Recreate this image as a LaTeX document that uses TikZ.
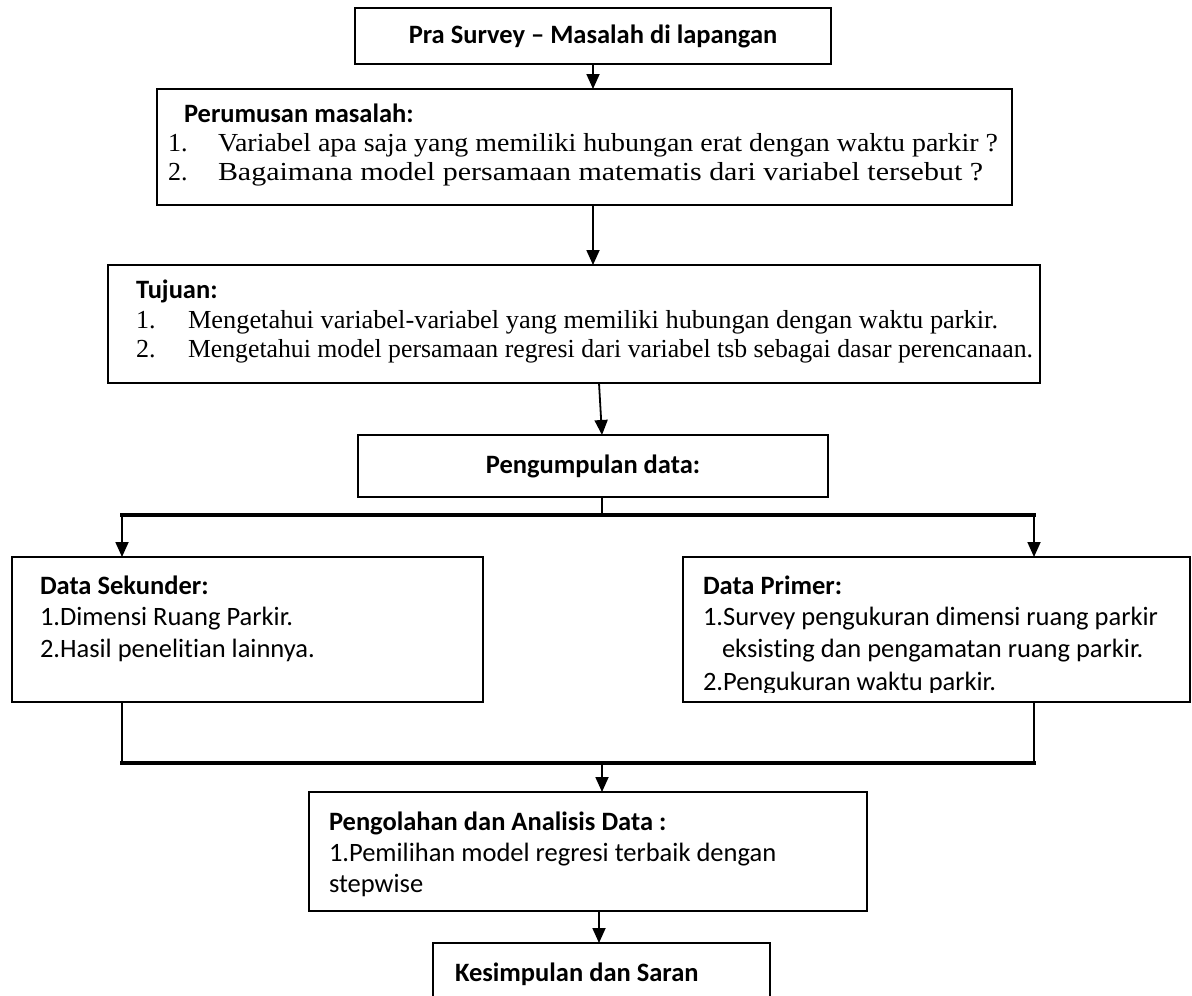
\documentclass[tikz,border=0pt]{standalone}
\usepackage{fontspec}
\usepackage{graphicx}
\setmainfont{Liberation Serif}
\newfontfamily\calfont[Ligatures=NoCommon]{Carlito}
\usetikzlibrary{arrows.meta}
\newcommand\fitw[2]{\resizebox{#1}{\height}{#2}}
\begin{document}
\begin{tikzpicture}[x=1pt,y=-1pt,
  every node/.style={inner sep=0pt,outer sep=0pt},
  box/.style={draw=black,line width=1.5pt,anchor=north west,inner sep=0pt,outer sep=0pt},
  hd/.style={anchor=base west,font=\calfont\bfseries\fontsize{26.5}{32}\selectfont},
  ct/.style={anchor=base west,font=\calfont\fontsize{26.5}{32}\selectfont},
  tm/.style={anchor=base west,font=\fontsize{26}{30}\selectfont},
  conn/.style={line width=1.8pt},
  arr/.style={conn,-{Triangle[length=15pt,width=13pt]}},
  bus/.style={line width=3.2pt,line cap=rect}]
\useasboundingbox (0,0) rectangle (1192,996);
\fill[white] (0,0) rectangle (1192,996);

% boxes
\node[box,minimum width=476pt,minimum height=56pt] (b1) at (355,8) {};
\node[box,minimum width=855pt,minimum height=116pt] (b2) at (157,89) {};
\node[box,minimum width=932pt,minimum height=118pt] (b3) at (108,265) {};
\node[box,minimum width=470pt,minimum height=62pt] (b4) at (358,435) {};
\node[box,minimum width=471pt,minimum height=145pt] (b5) at (12,557) {};
\node[box,minimum width=507pt,minimum height=145pt] (b6) at (683,557) {};
\node[box,minimum width=558pt,minimum height=119pt] (b7) at (309,792) {};
\node[box,minimum width=337pt,minimum height=80pt] (b8) at (433,943) {};

% texts
\node[hd,anchor=center] (t1) at (b1.center) {Pra Survey – Masalah di lapangan};

\node[hd] (t2h) at (184,122) {Perumusan masalah:};
\node[tm] (t2n1) at (168,151) {1.};
\node[tm] (t2l1) at (218,151) {\fitw{780pt}{Variabel apa saja yang memiliki hubungan erat dengan waktu parkir ?}};
\node[tm] (t2n2) at (168,180) {2.};
\node[tm] (t2l2) at (218,180) {\fitw{765pt}{Bagaimana model persamaan matematis dari variabel tersebut ?}};

\node[hd] (t3h) at (136,298) {Tujuan:};
\node[tm] (t3n1) at (136,328) {1.};
\node[tm] (t3l1) at (188,328) {\fitw{810pt}{Mengetahui variabel-variabel yang memiliki hubungan dengan waktu parkir.}};
\node[tm] (t3n2) at (136,357) {2.};
\node[tm] (t3l2) at (188,357) {\fitw{845pt}{Mengetahui model persamaan regresi dari variabel tsb sebagai dasar perencanaan.}};

\node[hd,anchor=center] (t4) at (b4.center) {Pengumpulan data:};

\node[hd] (t5h) at (40,594) {Data Sekunder:};
\node[ct] (t5l1) at (40,625) {1.Dimensi Ruang Parkir.};
\node[ct] (t5l2) at (40,657) {2.Hasil penelitian lainnya.};

\node[hd] (t6h) at (703,594) {Data Primer:};
\node[ct] (t6l1) at (703,625) {1.Survey pengukuran dimensi ruang parkir};
\node[ct] (t6l2) at (722,657) {eksisting dan pengamatan ruang parkir.};
\begin{scope}
\clip (690,665) rectangle (1188,692);
\node[ct] (t6l3) at (703,690) {2.Pengukuran waktu parkir.};
\end{scope}

\node[hd] (t7h) at (329,830) {Pengolahan dan Analisis Data :};
\node[ct] (t7l1) at (329,861) {1.Pemilihan model regresi terbaik dengan};
\node[ct] (t7l2) at (329,892) {stepwise};

\node[hd] (t8) at (455,981) {Kesimpulan dan Saran};

% connector coordinates
\coordinate (xa) at (593,0);
\coordinate (xb) at (599,0);
\coordinate (xc) at (602,0);
\coordinate (u1) at (122,515);
\coordinate (u2) at (1034,515);
\coordinate (um) at (602,515);
\coordinate (l1) at (122,763);
\coordinate (l2) at (1034,763);
\coordinate (lm) at (602,763);

% connectors
\draw[arr] (b1.south) -- (b1.south |- b2.north);
\draw[arr] (b2.south -| xa) -- (b3.north -| xa);
\draw[arr] (b3.south -| xb) -- (b4.north -| xc);
\draw[conn] (b4.south -| um) -- (um);
\draw[bus] (u1) -- (u2);
\draw[arr] (u1) -- (b5.north -| u1);
\draw[arr] (u2) -- (b6.north -| u2);
\draw[conn] (b5.south -| l1) -- (l1);
\draw[conn] (b6.south -| l2) -- (l2);
\draw[bus] (l1) -- (l2);
\draw[arr] (lm) -- (b7.north -| lm);
\draw[arr] (b7.south -| xb) -- (b8.north -| xb);
\end{tikzpicture}
\end{document}
